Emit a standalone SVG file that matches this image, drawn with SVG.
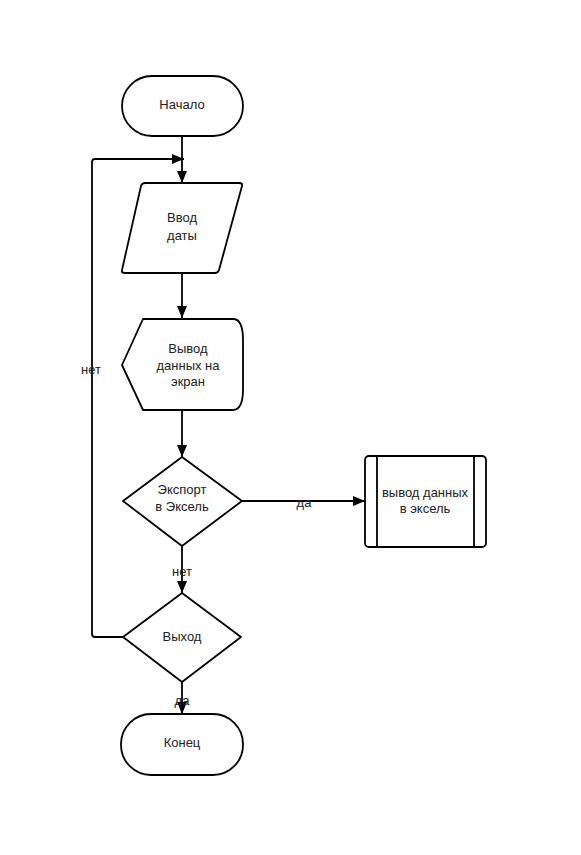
<svg xmlns="http://www.w3.org/2000/svg" width="581" height="855" viewBox="0 0 581 855">
<style>
.s{fill:#fff;stroke:#000;stroke-width:1.8;stroke-linejoin:round}
.c{fill:none;stroke:#000;stroke-width:1.8}
text{font-family:"Liberation Sans",Arial,sans-serif;font-size:13px;fill:#222;text-anchor:middle}
</style>
<defs>
<marker id="a" viewBox="0 0 12 10" refX="12" refY="5" markerWidth="12" markerHeight="10" markerUnits="userSpaceOnUse" orient="auto">
<path d="M0,0 L12,5 L0,10 Z" fill="#000"/>
</marker>
</defs>
<rect width="581" height="855" fill="#fff"/>
<g id="connectors">
<path class="c" d="M182,136 V183" marker-end="url(#a)"/>
<path class="c" d="M123,637 H95 Q92,637 92,634 V162 Q92,159 95,159 H184" marker-end="url(#a)"/>
<path class="c" d="M182,273 V318" marker-end="url(#a)"/>
<path class="c" d="M182,410 V457" marker-end="url(#a)"/>
<path class="c" d="M242,501 H365" marker-end="url(#a)"/>
<path class="c" d="M182,546 V593" marker-end="url(#a)"/>
<path class="c" d="M182,682 V714" marker-end="url(#a)"/>
<text x="304" y="507">да</text>
<text x="182" y="576">нет</text>
<text x="91" y="374">нет</text>
<text x="182" y="705">да</text>
</g>
<g id="start">
<rect class="s" x="122" y="76" width="121" height="60" rx="30"/>
<text x="182" y="109">Начало</text>
</g>
<g id="input">
<path class="s" d="M145,183 H239 Q243,183 242,186 L219,270 Q218,273 215,273 H125 Q121,273 122,270 L141,186 Q142,183 145,183 Z"/>
<text x="182" y="222">Ввод</text>
<text x="182" y="240">даты</text>
</g>
<g id="display">
<path class="s" d="M143,319 H233 Q243,319 243,340 V389 Q243,410 233,410 H143 L122,365 Z"/>
<text x="188" y="353">Вывод</text>
<text x="188" y="370">данных на</text>
<text x="188" y="386">экран</text>
</g>
<g id="export">
<path class="s" d="M182,457 L242,501 L182,546 L123,501 Z"/>
<text x="182" y="494">Экспорт</text>
<text x="182" y="511">в Эксель</text>
</g>
<g id="excel">
<rect class="s" x="365" y="456" width="121" height="91" rx="4"/>
<path class="c" d="M377,456 V547 M474,456 V547"/>
<text x="425" y="497">вывод данных</text>
<text x="425" y="513">в эксель</text>
</g>
<g id="exit">
<path class="s" d="M182,593 L241,637 L182,682 L123,637 Z"/>
<text x="182" y="641">Выход</text>
</g>
<g id="end">
<rect class="s" x="121" y="714" width="122" height="61" rx="30"/>
<text x="182" y="747">Конец</text>
</g>
</svg>
